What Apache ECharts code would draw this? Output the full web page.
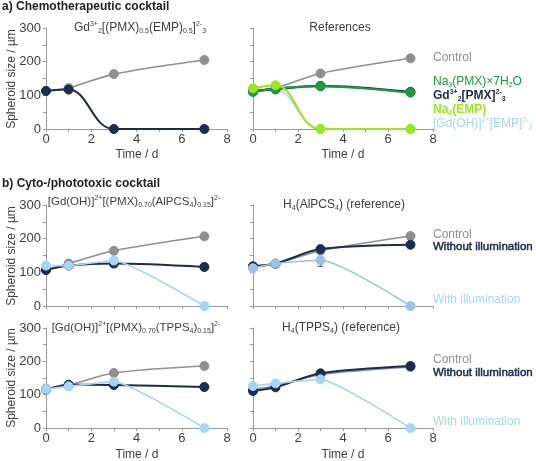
<!DOCTYPE html>
<html><head><meta charset="utf-8">
<script src="https://cdn.jsdelivr.net/npm/echarts@6/dist/echarts.min.js"></script>
<style>html,body{margin:0;padding:0;background:#fff}#c{width:536px;height:461px}</style>
</head><body><div id="c"></div>
<script>
const time = [0, 1, 3, 7];
const xTicks = [0, 2, 4, 6, 8];
const yTicks = [0, 100, 200, 300];
// Panel a-left
const a1Control = [113, 122, 163, 205];
const a1Cocktail = [113, 117, 0, 0];
// Panel a-right (references)
const a2Control = [115, 122, 165, 210];
const a2NaPMX = [110, 120, 127, 108];
const a2GdPMX = [112, 119, 128, 110];
const a2NaEMP = [121, 130, 0, 0];
const a2GdEMP = [116, 116, 0, 0];
// Panel b AlPCS4 cocktail
const b1Control = [107, 126, 164, 207];
const b1Dark = [107, 120, 126, 116];
const b1Light = [120, 120, 135, 0];
// Panel b H4(AlPCS4) reference
const b2Control = [116, 125, 164, 208];
const b2Dark = [118, 126, 169, 182];
const b2Light = [112, 126, 136, 0];
const b2LightErrLow = [null, null, 118, null];
// Panel b TPPS4 cocktail
const c1Control = [118, 128, 165, 186];
const c1Dark = [116, 130, 129, 123];
const c1Light = [117, 125, 139, 0];
// Panel b H4(TPPS4) reference
const c2Control = [116, 127, 160, 183];
const c2Dark = [111, 122, 164, 186];
const c2Light = [126, 134, 146, 0];

const GRAY = '#8f8f8f', NAVY = '#1b2c50', LBLUE = '#a6d6f7', LBLUE2 = '#98c2ea', GREEN = '#1f9a3e', LGREEN = '#9be81a';
const AX = '#9a9a9a', TXT = '#404040';
const FONT = '"Liberation Sans", Arial, sans-serif';

const grids = [
  {left: 46, top: 28, width: 181, height: 101},
  {left: 253, top: 28, width: 180, height: 101},
  {left: 46, top: 205, width: 181, height: 101},
  {left: 253, top: 205, width: 180, height: 101},
  {left: 46, top: 328, width: 181, height: 100},
  {left: 253, top: 328, width: 180, height: 100}
];
const xAxis = grids.map((g, i) => ({
  type: 'value', gridIndex: i, min: 0, max: 8, interval: 1,
  axisLine: {lineStyle: {color: AX, width: 1}},
  axisTick: {show: true, length: 3, lineStyle: {color: AX}},
  splitLine: {show: false},
  axisLabel: {show: i < 2 || i > 3, color: TXT, fontSize: 13, fontFamily: FONT, margin: 4,
    formatter: v => xTicks.includes(v) ? String(v) : ''}
}));
const yAxis = grids.map((g, i) => ({
  type: 'value', gridIndex: i, min: 0, max: 300, interval: 50,
  axisLine: {show: true, lineStyle: {color: AX, width: 1}},
  axisTick: {show: true, length: 3, lineStyle: {color: AX}},
  splitLine: {show: false},
  axisLabel: {show: i % 2 === 0, color: TXT, fontSize: 13, fontFamily: FONT, margin: 5,
    formatter: v => yTicks.includes(v) ? String(v) : ''}
}));

function line(idx, vals, color, w, z, sm) {
  return {
    type: 'line', xAxisIndex: idx, yAxisIndex: idx, smooth: sm == null ? 0.3 : sm,
    data: time.map((t, k) => [t, vals[k]]),
    symbol: 'circle', symbolSize: 9, z: z || 2,
    lineStyle: {color: color, width: w || 1.6},
    itemStyle: {color: color, borderColor: color, borderWidth: 1, opacity: 1},
    emphasis: {disabled: true}, animation: false
  };
}
const series = [
  line(0, a1Control, GRAY, 1.6), line(0, a1Cocktail, NAVY, 2, 3, 0.4),
  line(1, a2Control, GRAY, 1.6), line(1, a2GdEMP, LBLUE, 1.6, 2, 0.4), line(1, a2GdPMX, NAVY, 2.4, 3),
  line(1, a2NaPMX, GREEN, 2, 4), line(1, a2NaEMP, LGREEN, 2, 5, 0.4),
  line(2, b1Control, GRAY, 1.6), line(2, b1Dark, NAVY, 2, 3), line(2, b1Light, LBLUE, 1.6, 4, 0.15),
  line(3, b2Control, GRAY, 1.6), line(3, b2Dark, NAVY, 2, 3), line(3, b2Light, LBLUE2, 1.6, 4, 0.2),
  line(4, c1Control, GRAY, 1.6), line(4, c1Dark, NAVY, 2, 3), line(4, c1Light, LBLUE, 1.6, 4, 0.15),
  line(5, c2Control, GRAY, 1.6), line(5, c2Dark, NAVY, 2, 3), line(5, c2Light, LBLUE, 1.6, 4, 0.15),
  {
    type: 'custom', xAxisIndex: 3, yAxisIndex: 3, z: 1, animation: false,
    data: time.map((t, k) => b2LightErrLow[k] == null ? null : [t, b2Light[k], b2LightErrLow[k]]).filter(d => d),
    renderItem: (params, api) => {
      const p1 = api.coord([api.value(0), api.value(1)]);
      const p2 = api.coord([api.value(0), api.value(2)]);
      return {type: 'group', children: [
        {type: 'line', shape: {x1: p1[0], y1: p1[1], x2: p2[0], y2: p2[1]}, style: {stroke: '#555', lineWidth: 1}},
        {type: 'line', shape: {x1: p2[0] - 3, y1: p2[1], x2: p2[0] + 3, y2: p2[1]}, style: {stroke: '#555', lineWidth: 1}}
      ]};
    }
  }
];

const rich = {
  b: {fontSize: 12, fontFamily: FONT, lineHeight: 16, verticalAlign: 'middle'},
  sup: {fontSize: 7, fontFamily: FONT, lineHeight: 16, verticalAlign: 'top', padding: [1, 0, 0, 0]},
  sub: {fontSize: 7, fontFamily: FONT, lineHeight: 16, verticalAlign: 'bottom', padding: [0, 0, 1, 0]}
};
function richFor(color, weight, size) {
  const r = {};
  for (const k in rich) r[k] = Object.assign({}, rich[k], {fill: color, fontWeight: weight || 'normal'});
  if (size) r.b.fontSize = size;
  return r;
}
function txt(x, y, text, color, align, weight, size) {
  const r = richFor(color, weight, size);
  return {type: 'text', x: x, y: y, silent: true,
    style: {text: text, rich: r, fill: color, align: align || 'left', verticalAlign: 'middle',
      font: (weight || 'normal') + ' ' + (size || 12) + 'px ' + FONT}};
}
function heavy(x, y, text, color) {
  return {type: 'text', x: x, y: y, silent: true,
    style: {text: text, fill: color, stroke: color, lineWidth: 0.5, align: 'left', verticalAlign: 'middle',
      font: 'normal 11.5px ' + FONT}};
}
const graphics = [
  {type: 'text', x: 2, y: 7, style: {text: 'a) Chemotherapeutic cocktail', fill: '#222', font: 'bold 12px ' + FONT, verticalAlign: 'middle'}},
  {type: 'text', x: 2, y: 184, style: {text: 'b) Cyto-/phototoxic cocktail', fill: '#222', font: 'bold 12px ' + FONT, verticalAlign: 'middle'}},
  txt(140, 28, '{b|Gd}{sup|3+}{sub|2}{b|[(PMX)}{sub|0.5}{b|(EMP)}{sub|0.5}{b|]}{sup|2-}{sub|3}', TXT, 'center'),
  txt(340, 28, '{b|References}', TXT, 'center'),
  txt(134, 202, '{b|[Gd(OH)]}{sup|2+}{b|[(PMX)}{sub|0.70}{b|(AlPCS}{sub|4}{b|)}{sub|0.15}{b|]}{sup|2-}', TXT, 'center', null, 11.5),
  txt(344, 205, '{b|H}{sub|4}{b|(AlPCS}{sub|4}{b|) (reference)}', TXT, 'center'),
  txt(136, 328, '{b|[Gd(OH)]}{sup|2+}{b|[(PMX)}{sub|0.70}{b|(TPPS}{sub|4}{b|)}{sub|0.15}{b|]}{sup|2-}', TXT, 'center', null, 11.5),
  txt(341, 328, '{b|H}{sub|4}{b|(TPPS}{sub|4}{b|) (reference)}', TXT, 'center'),
  // legends top right
  txt(433, 58, '{b|Control}', GRAY, 'left'),
  txt(433, 82, '{b|Na}{sub|3}{b|(PMX)×7H}{sub|2}{b|O}', GREEN, 'left'),
  txt(433, 96, '{b|Gd}{sup|3+}{sub|2}{b|[PMX]}{sup|2-}{sub|3}', NAVY, 'left', 'bold'),
  txt(433, 110, '{b|Na}{sub|2}{b|(EMP)}', LGREEN, 'left', 'bold'),
  txt(433, 124, '{b|[Gd(OH)]}{sup|2+}{b|[EMP]}{sup|2-}{sub|3}', LBLUE, 'left'),
  // legends middle right
  txt(433, 235, '{b|Control}', GRAY, 'left'),
  heavy(433, 247, 'Without illumination', NAVY),
  txt(433, 300, '{b|With illumination}', LBLUE, 'left'),
  // legends bottom right
  txt(433, 360, '{b|Control}', GRAY, 'left'),
  heavy(433, 373, 'Without illumination', NAVY),
  txt(433, 422, '{b|With illumination}', LBLUE, 'left'),
  // axis names
  {type: 'text', x: 12, y: 79, rotation: Math.PI / 2, style: {text: 'Spheroid size / µm', fill: TXT, font: '12px ' + FONT, align: 'center', verticalAlign: 'middle'}},
  {type: 'text', x: 12, y: 256, rotation: Math.PI / 2, style: {text: 'Spheroid size / µm', fill: TXT, font: '12px ' + FONT, align: 'center', verticalAlign: 'middle'}},
  {type: 'text', x: 12, y: 378, rotation: Math.PI / 2, style: {text: 'Spheroid size / µm', fill: TXT, font: '12px ' + FONT, align: 'center', verticalAlign: 'middle'}},
  {type: 'text', x: 137, y: 155, style: {text: 'Time / d', fill: TXT, font: '12px ' + FONT, align: 'center', verticalAlign: 'middle'}},
  {type: 'text', x: 343, y: 155, style: {text: 'Time / d', fill: TXT, font: '12px ' + FONT, align: 'center', verticalAlign: 'middle'}},
  {type: 'text', x: 137, y: 455, style: {text: 'Time / d', fill: TXT, font: '12px ' + FONT, align: 'center', verticalAlign: 'middle'}},
  {type: 'text', x: 343, y: 455, style: {text: 'Time / d', fill: TXT, font: '12px ' + FONT, align: 'center', verticalAlign: 'middle'}}
];

const chart = echarts.init(document.getElementById('c'), null, {renderer: 'canvas'});
chart.setOption({
  animation: false,
  backgroundColor: '#fff',
  grid: grids,
  xAxis: xAxis,
  yAxis: yAxis,
  series: series,
  graphic: graphics
});
</script></body></html>
